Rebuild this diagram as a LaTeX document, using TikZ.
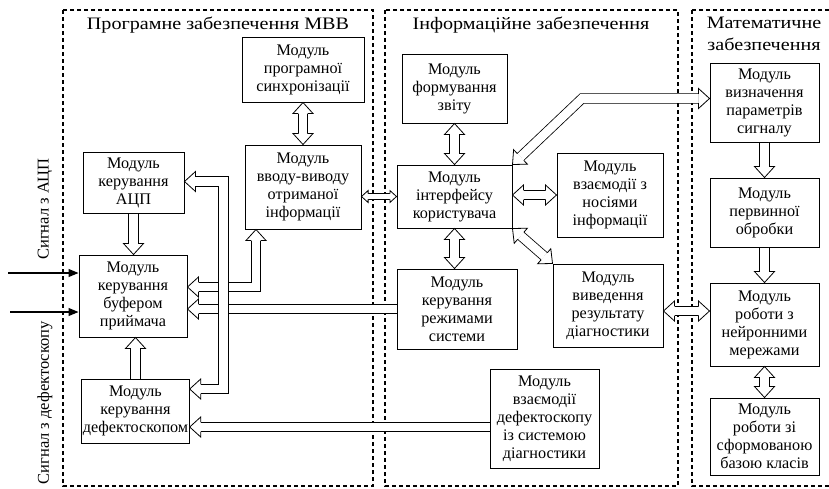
\documentclass[tikz,border=0pt]{standalone}
\usepackage{fontspec}
\setmainfont{Liberation Serif}
\newfontfamily\widefam[FakeStretch=1.15]{Liberation Serif}
\usepackage{tikz}
\usetikzlibrary{arrows.meta,calc}
\newcommand{\modfont}{\fontsize{16.2}{18}\selectfont}
\newcommand{\ttlfont}{\widefam\fontsize{17.5}{22}\selectfont}
\newcommand{\sidefont}{\fontsize{16.5}{20}\selectfont}
\newcommand{\oneway}[2]{%
  \draw[bus, shorten >=11pt] #1 -- #2;
  \path #1 -- #2 pic[pos=1, sloped, allow upside down]{head};}
\newcommand{\twoway}[2]{%
  \draw[bus, shorten <=11pt, shorten >=11pt] #1 -- #2;
  \path #1 -- #2 pic[pos=0, sloped, allow upside down]{tail} pic[pos=1, sloped, allow upside down]{head};}

\begin{document}
\begin{tikzpicture}[x=1pt, y=-1pt,
  panel/.style={draw, line width=1.1pt, dash pattern=on 4pt off 3pt},
  module/.style={draw, line width=1pt, align=center, font=\modfont, inner sep=1pt},
  bus/.style={draw, line width=0.8pt, double=white, double distance=8.6pt},
  sig/.style={line width=1.1pt, -{Triangle[length=10pt, width=8pt]}},
  pics/head/.style={code={\filldraw[fill=white, line width=0.8pt] (-11,4.7) -- (-11,10) -- (0,0) -- (-11,-10) -- (-11,-4.7);}},
  pics/tail/.style={code={\filldraw[fill=white, line width=0.8pt] (11,4.7) -- (11,10) -- (0,0) -- (11,-10) -- (11,-4.7);}}]
  \useasboundingbox (0,0) rectangle (829,488);

  \draw[panel] (63,10) rectangle (373,486);   %Software panel
  \draw[panel] (385,10) rectangle (678,486);  %Information panel
  \draw[panel] (692,10) rectangle (834,486);  %Math panel

  \node[font=\ttlfont] (ttlsoft) at (218,25) {Програмне забезпечення МВВ};
  \node[font=\ttlfont] (ttlinfo) at (531,25) {Інформаційне забезпечення};
  \node[font=\ttlfont, align=center] (ttlmath) at (764,34) {Математичне\\забезпечення};

  \node[font=\sidefont, rotate=90] (sadc) at (45,209) {Сигнал з АЦП};
  \node[font=\sidefont, rotate=90, anchor=east, inner sep=0] (sdef) at (45,321) {Сигнал з дефектоскопу};

  % software modules
  \node[module, minimum width=122, minimum height=65] (sync) at (303,69.5) {Модуль\\програмної\\синхронізації};
  \node[module, minimum width=116, minimum height=84] (io) at (303,187) {Модуль\\вводу-виводу\\отриманої\\інформації};
  \node[module, minimum width=101, minimum height=61] (adc) at (133.5,182.5) {Модуль\\керування\\АЦП};
  \node[module, minimum width=108, minimum height=82] (buf) at (133,296) {Модуль\\керування\\буфером\\приймача};
  \node[module, minimum width=105, minimum height=64] (defect) at (135.5,411) {Модуль\\керування\\дефектоскопом};

  % information modules
  \node[module, minimum width=105, minimum height=69] (report) at (454.5,88.5) {Модуль\\формування\\звіту};
  \node[module, minimum width=115, minimum height=63] (ui) at (454.5,196.5) {Модуль\\інтерфейсу\\користувача};
  \node[module, minimum width=106, minimum height=84] (media) at (610,195) {Модуль\\взаємодії з\\носіями\\інформації};
  \node[module, minimum width=120, minimum height=80] (modes) at (457,309) {Модуль\\керування\\режимами\\системи};
  \node[module, minimum width=110, minimum height=83] (result) at (608,305.5) {Модуль\\виведення\\результату\\діагностики};
  \node[module, minimum width=109, minimum height=99] (dfsys) at (544.5,418.5) {Модуль\\взаємодії\\дефектоскопу\\із системою\\діагностики};

  % math modules
  \node[module, minimum width=109, minimum height=79] (param) at (764.5,102.5) {Модуль\\визначення\\параметрів\\сигналу};
  \node[module, minimum width=109, minimum height=69] (prim) at (764.5,212.5) {Модуль\\первинної\\обробки};
  \node[module, minimum width=109, minimum height=83] (neural) at (764.5,324.5) {Модуль\\роботи з\\нейронними\\мережами};
  \node[module, minimum width=109, minimum height=77] (classes) at (764.5,436.5) {Модуль\\роботи зі\\сформованою\\базою класів};

  % input signals
  \coordinate (inadc) at (8,273);
  \coordinate (indef) at (10,312);
  \draw[sig] (inadc) -- (inadc -| buf.west);
  \draw[sig] (indef) -- (indef -| buf.west);

  % straight block arrows
  \twoway{(sync.south)}{(io.north)}
  \oneway{(adc.south)}{(adc.south |- buf.north)}
  \oneway{(defect.north)}{(defect.north |- buf.south)}
  \coordinate (dfout) at ([yshift=-8.5pt]dfsys.west);
  \oneway{(dfout)}{(dfout -| defect.east)}
  \oneway{(modes.west)}{(modes.west -| buf.east)}
  \twoway{(report.south)}{(ui.north)}
  \twoway{(ui.south)}{(ui.south |- modes.north)}
  \twoway{(media.west -| ui.east)}{(media.west)}
  \twoway{(ui.south east)}{(result.north west)}
  \coordinate (resout) at ([yshift=-5.5pt]result.east);
  \twoway{(resout)}{(resout -| neural.west)}
  \oneway{(param.south)}{(prim.north)}
  \oneway{(prim.south)}{(neural.north)}
  \twoway{(neural.south)}{(classes.north)}

  % small arrow io <-> ui
  \draw[bus, double distance=4.8pt, shorten <=6.5pt, shorten >=6.5pt] (ui.west -| io.east) -- (ui.west);
  \path (ui.west -| io.east) -- (ui.west) pic[pos=0, sloped, allow upside down, scale=0.6]{tail} pic[pos=1, sloped, allow upside down, scale=0.6]{head};

  % bent arrow ui <-> param
  \coordinate (uibend) at (582,98.5);
  \draw[bus, shorten <=11pt, shorten >=11pt] (ui.north east) -- (uibend) -- (uibend -| param.west);
  \path (ui.north east) -- (uibend) pic[pos=0, sloped, allow upside down]{tail} -- (uibend -| param.west) pic[pos=1, sloped, allow upside down]{head};

  % bent arrow buf <-> io
  \coordinate (iobend) at (256,287);
  \draw[bus, shorten <=11pt, shorten >=11pt] (iobend -| buf.east) -- (iobend) -- (iobend |- io.south);
  \path (iobend -| buf.east) -- (iobend) pic[pos=0, sloped, allow upside down]{tail} -- (iobend |- io.south) pic[pos=1, sloped, allow upside down]{head};

  % bus adc <-> defect
  \coordinate (bustop) at (223.5,181.5);
  \coordinate (busbot) at (223.5,389);
  \draw[bus, shorten <=11pt, shorten >=11pt] (adc.east |- bustop) -- (bustop) -- (busbot) -- (busbot -| defect.east);
  \path (adc.east |- bustop) -- (bustop) pic[pos=0, sloped, allow upside down]{tail} -- (busbot) -- (busbot -| defect.east) pic[pos=1, sloped, allow upside down]{head};
\end{tikzpicture}
\end{document}
